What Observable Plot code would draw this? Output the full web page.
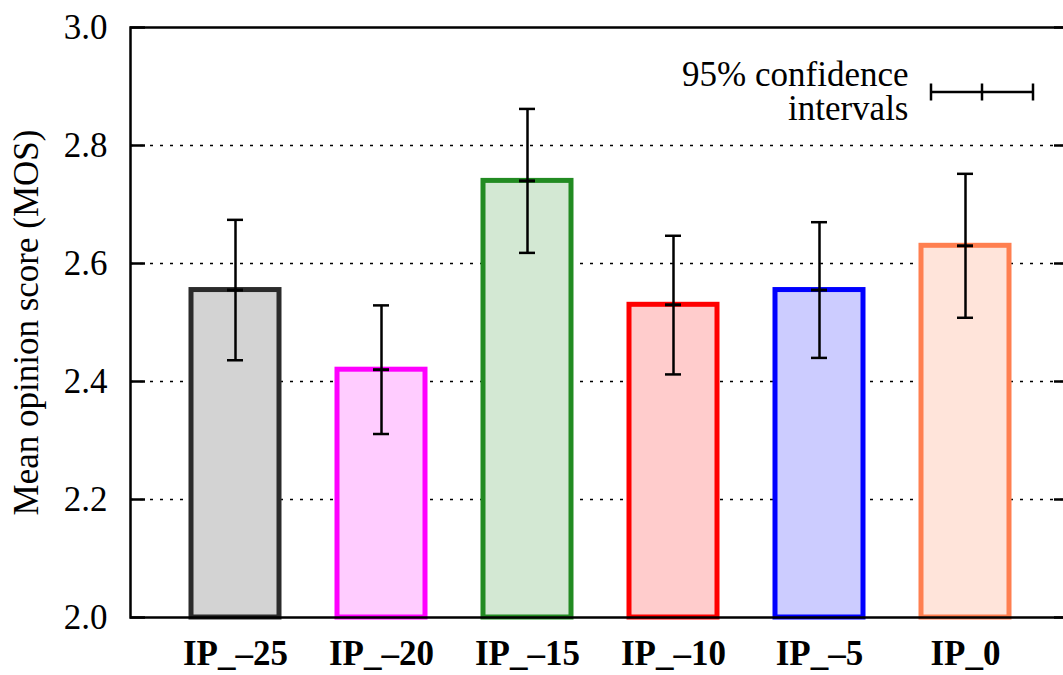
<!DOCTYPE html>
<html>
<head>
<meta charset="utf-8">
<script src="https://cdn.jsdelivr.net/npm/d3@7"></script>
<script src="https://cdn.jsdelivr.net/npm/@observablehq/plot@0.6"></script>
<style>
  html, body { margin: 0; padding: 0; background: #fff; }
  svg { display: block; }
</style>
</head>
<body>
<div id="chart"></div>
<script>
// ---- data ----
const categories = ["IP_\u201325", "IP_\u201320", "IP_\u201315", "IP_\u201310", "IP_\u20135", "IP_0"];
const means  = [2.555, 2.420, 2.740, 2.530, 2.555, 2.630];
const lowers = [2.436, 2.311, 2.618, 2.412, 2.440, 2.508];
const uppers = [2.674, 2.529, 2.862, 2.647, 2.670, 2.752];
const strokeColors = ["#2b2b2b", "#ff00ff", "#228b22", "#ff0000", "#0000ff", "#ff7f50"];
const fillColors   = ["#d3d3d3", "#ffccff", "#d3e8d3", "#ffcccc", "#ccccff", "#ffe4da"];
const yDomain = [2.0, 3.0];
const yTicks = [2.0, 2.2, 2.4, 2.6, 2.8, 3.0];
const gridTicks = [2.2, 2.4, 2.6, 2.8];
const yLabel = "Mean opinion score (MOS)";
const legendLines = ["95% confidence", "intervals"];

const data = categories.map((c, i) => ({
  cat: c, mean: means[i], lo: lowers[i], hi: uppers[i],
  strokeColor: strokeColors[i], fillColor: fillColors[i]
}));

// ---- layout ----
const W = 1063, H = 675;
const mL = 130, mR = -6, mT = 27, mB = 58;
const plotW = W - mL - mR;
const font = "'Liberation Serif', 'Times New Roman', Times, serif";

function legendSample(index, scales, values, dim) {
  const right = dim.width - dim.marginRight;
  const cy = dim.marginTop + 65;
  const x1 = right - 138, x2 = right - 36, xm = (x1 + x2) / 2;
  const g = d3.create("svg:g").attr("stroke", "#000").attr("stroke-width", 2.5).attr("fill", "none");
  g.append("line").attr("x1", x1).attr("x2", x2).attr("y1", cy).attr("y2", cy);
  for (const x of [x1, xm, x2]) {
    g.append("line").attr("x1", x).attr("x2", x).attr("y1", cy - 8.5).attr("y2", cy + 8.5);
  }
  return g.node();
}

const plot = Plot.plot({
  width: W, height: H,
  marginLeft: mL, marginRight: mR, marginTop: mT, marginBottom: mB,
  style: { fontFamily: font, fontSize: "35px", background: "#fff", color: "#000" },
  x: { domain: categories, range: [159, 1040], paddingInner: 0.4, paddingOuter: 0.2 },
  y: { domain: yDomain },
  color: { type: "identity" },
  marks: [
    Plot.ruleY(gridTicks, { y: d => d, stroke: "#000", strokeWidth: 1.3, strokeDasharray: "3,7" }),
    Plot.barY(data, { x: "cat", y1: () => yDomain[0], y2: "mean", fill: "fillColor", stroke: "strokeColor", strokeWidth: 5 }),
    Plot.ruleX(data, { x: "cat", y1: "lo", y2: "hi", stroke: "#000", strokeWidth: 2.5 }),
    Plot.tickY(data, { x: "cat", y: "lo", stroke: "#000", strokeWidth: 2.5, insetLeft: 36, insetRight: 36 }),
    Plot.tickY(data, { x: "cat", y: "hi", stroke: "#000", strokeWidth: 2.5, insetLeft: 36, insetRight: 36 }),
    Plot.tickY(data, { x: "cat", y: "mean", stroke: "#000", strokeWidth: 3, insetLeft: 36, insetRight: 36 }),
    Plot.tickY(yTicks, { y: d => d, stroke: "#000", strokeWidth: 2.5, insetRight: plotW - 15 }),
    Plot.tickY(yTicks, { y: d => d, stroke: "#000", strokeWidth: 2.5, insetLeft: plotW - 15 }),
    Plot.frame({ stroke: "#000", strokeWidth: 2.5 }),
    Plot.axisY(yTicks, { tickSize: 0, tickPadding: 23, tickFormat: d3.format(".1f"), fontSize: 35, label: null }),
    Plot.axisX({ tickSize: 0, tickPadding: 23, fontWeight: "bold", fontSize: 35, label: null }),
    Plot.text([yLabel], { text: d => d, frameAnchor: "left", rotate: -90, textAnchor: "middle", dx: -104, fontSize: 35, fill: "#000" }),
    Plot.text([legendLines.join("\n")], { text: d => d, frameAnchor: "top-right", textAnchor: "end", lineAnchor: "top", lineHeight: 0.97, dx: -161, dy: 34, fontSize: 35, fill: "#000" }),
    legendSample
  ]
});

document.getElementById("chart").appendChild(plot);
</script>
</body>
</html>
